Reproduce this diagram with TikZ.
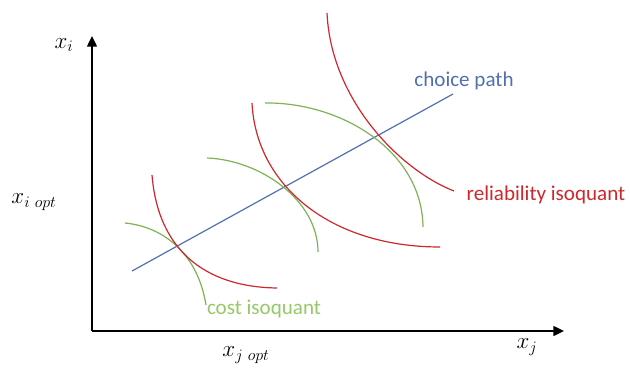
\documentclass[tikz,border=0pt]{standalone}
\usepackage{fontspec}
\setmainfont{Carlito}
\usetikzlibrary{arrows.meta}
\definecolor{pathblue}{RGB}{80,112,178}
\definecolor{relred}{RGB}{205,40,45}
\definecolor{costgreen}{RGB}{125,178,85}
\definecolor{costlabel}{RGB}{150,200,105}
\tikzset{axislabel/.style={font=\fontsize{17}{20}\selectfont}}
\begin{document}
\begin{tikzpicture}[x=0.75pt, y=-0.75pt, >={Triangle[length=8pt,width=7.5pt]}, font=\fontsize{15.8}{18}\selectfont]
\useasboundingbox (0,0) rectangle (630,370);
\coordinate (origin) at (92,331);
\coordinate (ytop) at (92,36);
\coordinate (xend) at (564,331);
\draw[->, line width=1pt] (origin) -- (ytop);
\draw[->, line width=1pt] (origin) -- (xend);
\node[axislabel] (xi) at (64,45) {$x_i$};
\node[axislabel] (xiopt) at (34,202) {$x_{i\ opt}$};
\node[axislabel] (xjopt) at (246,355) {$x_{j\ opt}$};
\node[axislabel] (xj) at (527,347) {$x_j$};
\draw[pathblue, line width=0.9pt] (132,271) -- (453,94);
\draw[costgreen, line width=0.9pt] (125,223) .. controls (165,227) and (198,255) .. (206,305);
\draw[costgreen, line width=0.9pt] (207,158) .. controls (260,160) and (318,200) .. (318,252);
\draw[costgreen, line width=0.9pt] (265,103) .. controls (340,102) and (422,150) .. (423,227);
\draw[relred, line width=0.9pt] (152,175) .. controls (158,250) and (205,287) .. (277,288);
\draw[relred, line width=0.9pt] (252,103) .. controls (256,185) and (330,247) .. (440,247);
\draw[relred, line width=0.9pt] (327,13) .. controls (331,100) and (400,170) .. (454,191);
\node[pathblue] (choice) at (464,81) {choice path};
\node[relred] (reliability) at (546,195) {reliability isoquant};
\node[costlabel] (cost) at (264,309) {cost isoquant};
\end{tikzpicture}
\end{document}
